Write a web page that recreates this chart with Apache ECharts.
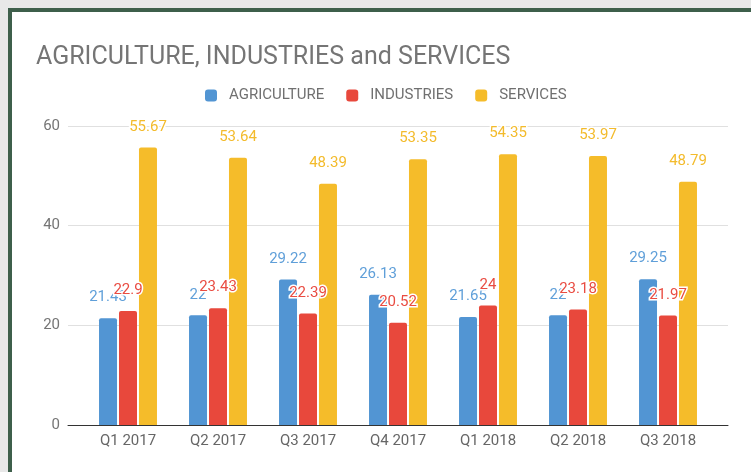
<!DOCTYPE html>
<html><head><meta charset="utf-8">
<script src="https://cdn.jsdelivr.net/npm/echarts@6/dist/echarts.min.js"></script>
<style>
html,body{margin:0;padding:0;background:#e8e8e8;width:751px;height:472px;overflow:hidden}
#frame{position:absolute;left:8px;top:8px;width:743px;height:464px;border-left:4px solid #3e5f4b;border-top:4px solid #3e5f4b;background:#fff;box-sizing:border-box}
#chart{position:absolute;left:0;top:0;width:751px;height:472px}
</style></head>
<body><div id="frame"></div><div id="chart"></div>
<script>
const categories = ['Q1 2017','Q2 2017','Q3 2017','Q4 2017','Q1 2018','Q2 2018','Q3 2018'];
const agriculture = [21.43, 22, 29.22, 26.13, 21.65, 22, 29.25];
const industries = [22.9, 23.43, 22.39, 20.52, 24, 23.18, 21.97];
const services = [55.67, 53.64, 48.39, 53.35, 54.35, 53.97, 48.79];
const yTicks = [0, 20, 40, 60];

const names = ['AGRICULTURE','INDUSTRIES','SERVICES'];
const barColors = ['#5295d3','#e8483c','#f5bc2a'];
const labelColors = ['#5f9fd9','#e94c42','#f3bb2c'];
const data = [agriculture, industries, services];
const font = 'Roboto, "Noto Sans", sans-serif';

const chart = echarts.init(document.getElementById('chart'), null, {renderer:'canvas'});
chart.setOption({
  backgroundColor: 'transparent',
  animation: false,
  title: {
    text: 'AGRICULTURE, INDUSTRIES and SERVICES',
    left: 31, top: 40,
    textStyle: {fontFamily: font, fontSize: 25, fontWeight: 'normal', color: '#757575'}
  },
  legend: {
    top: 83, left: 200,
    itemWidth: 12, itemHeight: 12, itemGap: 22,
    icon: 'roundRect',
    textStyle: {fontFamily: font, fontSize: 15, color: '#707070', padding: [0,0,0,7]},
    data: names
  },
  grid: [
    {left: 68, right: 23, top: 126, bottom: 47},
    {left: 83, right: 38, top: 126, bottom: 47}
  ],
  xAxis: [
    {type: 'category', gridIndex: 0, data: [''], axisLine: {lineStyle: {color: '#333', width: 1}},
     axisTick: {show: false}, axisLabel: {show: false}},
    {type: 'category', gridIndex: 1, data: categories, axisLine: {show: false},
     axisTick: {show: false},
     axisLabel: {fontFamily: font, fontSize: 15, color: '#666', margin: 9}}
  ],
  yAxis: [
    {type: 'value', gridIndex: 0, min: yTicks[0], max: yTicks[yTicks.length-1], interval: 20,
     axisLine: {show: false}, axisTick: {show: false},
     axisLabel: {fontFamily: font, fontSize: 15, color: '#757575', margin: 8},
     splitLine: {lineStyle: {color: '#e0e0e0'}}},
    {type: 'value', gridIndex: 1, min: yTicks[0], max: yTicks[yTicks.length-1], interval: 20,
     show: false, splitLine: {show: false}}
  ],
  series: names.map((n, i) => ({
    name: n, type: 'bar', xAxisIndex: 1, yAxisIndex: 1,
    data: data[i],
    barWidth: 18, barGap: '11%',
    itemStyle: {color: barColors[i], borderRadius: [2,2,0,0]},
    label: {
      show: true, position: 'top', distance: 13,
      fontFamily: font, fontSize: 15, color: labelColors[i],
      textBorderColor: '#fff', textBorderWidth: 3
    }
  }))
});
</script></body></html>
